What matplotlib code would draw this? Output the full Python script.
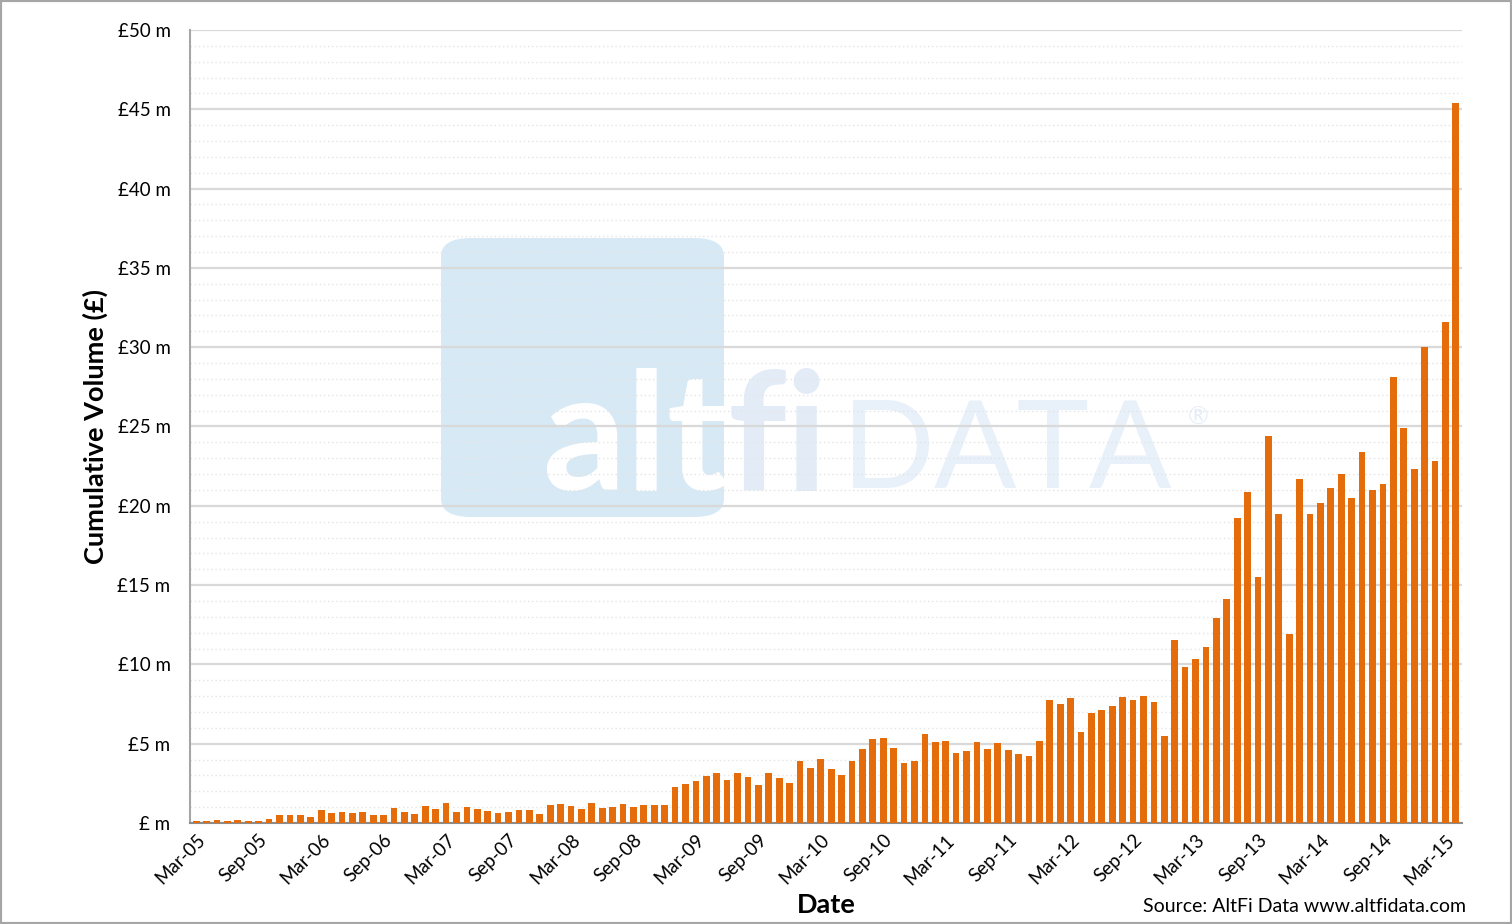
import numpy as np
import pandas as pd
import matplotlib
matplotlib.use("Agg")
import matplotlib.pyplot as plt
from matplotlib.patches import FancyBboxPatch, Rectangle

plt.rcParams['font.family'] = ['Lato', 'DejaVu Sans']

# monthly volumes, Mar-05 .. Apr-15 (GBP millions)
meses = pd.date_range("2005-03-01", periods=122, freq="MS")
volume = [
    0.1, 0.1, 0.17, 0.1, 0.17, 0.1, 0.1, 0.23, 0.48, 0.48,
    0.48, 0.36, 0.8, 0.61, 0.67, 0.61, 0.67, 0.48, 0.48, 0.92,
    0.67, 0.55, 1.05, 0.86, 1.24, 0.67, 0.99, 0.86, 0.74, 0.61,
    0.67, 0.8, 0.8, 0.55, 1.11, 1.17, 1.05, 0.86, 1.24, 0.92,
    1.02, 1.2, 1.0, 1.13, 1.13, 1.13, 2.27, 2.46, 2.65, 2.96,
    3.15, 2.71, 3.15, 2.9, 2.4, 3.15, 2.84, 2.52, 3.91, 3.47,
    4.02, 3.38, 3.0, 3.89, 4.64, 5.27, 5.34, 4.71, 3.76, 3.89,
    5.59, 5.08, 5.15, 4.39, 4.52, 5.08, 4.64, 5.02, 4.58, 4.33,
    4.2, 5.15, 7.73, 7.48, 7.86, 5.71, 6.92, 7.1, 7.35, 7.92,
    7.73, 7.98, 7.61, 5.46, 11.51, 9.81, 10.32, 11.07, 12.9, 14.1,
    19.2, 20.9, 15.5, 24.4, 19.5, 11.9, 21.7, 19.5, 20.2, 21.1,
    22.0, 20.5, 23.4, 21.0, 21.4, 28.1, 24.9, 22.3, 30.0, 22.8,
    31.6, 45.4,
]
rotulos = [m.strftime("%b-%y") for m in meses]
yticks = [0, 5, 10, 15, 20, 25, 30, 35, 40, 45, 50]
ytick_rotulos = ["£ m" if v == 0 else "£%d m" % v for v in yticks]

W, H = 1512, 924
fig = plt.figure(figsize=(W / 100, H / 100), dpi=100)
ax = fig.add_axes([190 / W, 1 - 823 / H, (1462 - 190) / W, (823 - 30) / H])
ax.set_facecolor("none")

# watermark (behind the axes)
def px(x, y):
    return x / W, 1 - y / H

x0, y0 = px(441, 517)
caixa = FancyBboxPatch((x0, y0), 283 / W, 279 / H,
                       boxstyle="round,pad=0,rounding_size=0.02",
                       transform=fig.transFigure, facecolor="#d7e9f5",
                       edgecolor="none", zorder=-2)
fig.patches.append(caixa)
fig.text(*px(543, 490), "alt", fontsize=118, fontweight="bold", color="white",
         ha="left", va="baseline", zorder=-1)
fig.text(*px(728, 490), "fi", fontsize=118, fontweight="bold", color="#e3ecf6",
         ha="left", va="baseline", zorder=-1)
fig.text(*px(842, 488), "DATA", fontsize=88, fontweight="normal", color="#e8f0f9",
         ha="left", va="baseline", zorder=-1)
fig.text(*px(1198, 424), "®", fontsize=18, color="#e6eff9",
         ha="center", va="baseline", zorder=-1)

x = np.arange(len(volume))
ax.bar(x, volume, width=0.65, color="#E46C0A", zorder=3)

ax.set_xlim(-0.6, len(volume) - 0.4)
ax.set_ylim(0, 50)
ax.set_yticks(yticks)
ax.set_yticklabels(ytick_rotulos, fontsize=13.5)
ax.set_yticks(np.arange(0, 51, 1), minor=True)
ax.grid(axis="y", which="major", color="#d9d9d9", linewidth=1.6, zorder=0)
ax.grid(axis="y", which="minor", color="#e4e4e4", linewidth=1.0,
        linestyle=(0, (1, 2)), zorder=0)
ax.tick_params(axis="y", which="both", length=0, pad=14)

pos = x[::6]
ax.set_xticks(pos)
ax.set_xticklabels([rotulos[i] for i in pos], rotation=45, ha="right",
                   rotation_mode="anchor", fontsize=13.5)
ax.tick_params(axis="x", length=0, pad=6)

for lado in ["top", "right"]:
    ax.spines[lado].set_visible(False)
ax.spines["left"].set_color("#a6a6a6")
ax.spines["bottom"].set_color("#8c8c8c")
ax.spines["left"].set_linewidth(1.5)
ax.spines["bottom"].set_linewidth(1.5)

ax.set_ylabel("Cumulative Volume (£)", fontsize=19.5, fontweight="bold", labelpad=7)
fig.text(*px(826, 905), "Date", fontsize=19.5, fontweight="bold",
         ha="center", va="center")
fig.text(*px(1466, 906), "Source: AltFi Data www.altfidata.com", fontsize=14,
         ha="right", va="center")

fig.patches.append(Rectangle((0, 0), 1, 1, transform=fig.transFigure,
                             fill=False, edgecolor="#a6a6a6", linewidth=3))

fig.savefig("out.png", dpi=100)
